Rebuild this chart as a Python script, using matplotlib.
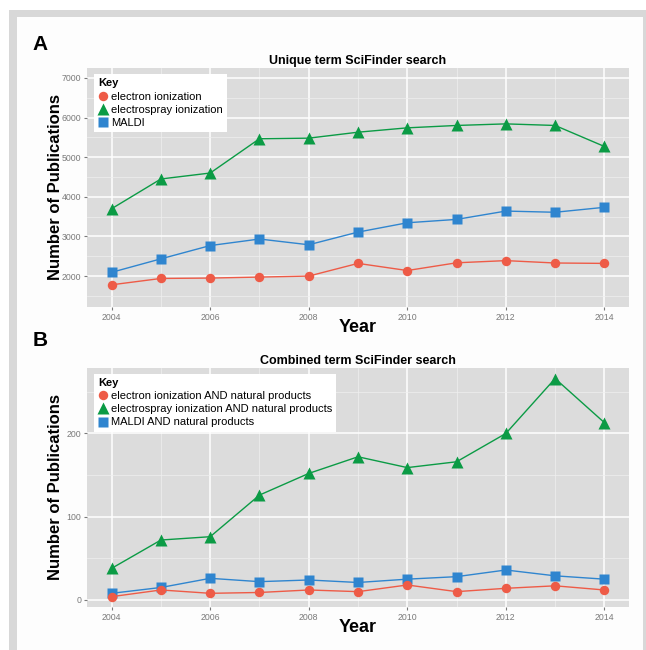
import matplotlib
matplotlib.use('Agg')
import matplotlib.pyplot as plt
from matplotlib.lines import Line2D
from matplotlib.patches import Rectangle
import numpy as np

plt.rcParams['font.family'] = ['Liberation Sans', 'DejaVu Sans']

years = [2004, 2005, 2006, 2007, 2008, 2009, 2010, 2011, 2012, 2013, 2014]

# panel A - unique term search
ei_a = [1780, 1940, 1950, 1975, 2000, 2320, 2140, 2335, 2390, 2330, 2320]
esi_a = [3700, 4450, 4600, 5465, 5480, 5630, 5740, 5800, 5840, 5800, 5270]
maldi_a = [2095, 2435, 2770, 2935, 2790, 3110, 3345, 3430, 3640, 3610, 3735]

# panel B - combined term search
ei_b = [4, 12, 8, 9, 12, 10, 18, 10, 14, 17, 12]
esi_b = [38, 72, 76, 126, 152, 172, 159, 166, 200, 266, 213]
maldi_b = [8, 15, 26, 22, 24, 21, 25, 28, 36, 29, 25]

labels_a = ['electron ionization', 'electrospray ionization', 'MALDI']
labels_b = ['electron ionization AND natural products',
            'electrospray ionization AND natural products',
            'MALDI AND natural products']

red = '#EE5B47'
green = '#0B9B45'
blue = '#2F85CF'
panel_bg = '#DCDCDC'
tick_col = '#7A7A7A'

fig = plt.figure(figsize=(6.46, 6.5), dpi=100)
fig.patch.set_facecolor('white')
# outer frame
fig.patches.append(Rectangle((0.0139, 0), 1, 0.9846, transform=fig.transFigure,
                             facecolor='#D8D8D8', edgecolor='none', zorder=-10))
fig.patches.append(Rectangle((0.0263, 0), 0.9691, 0.9738, transform=fig.transFigure,
                             facecolor='#FDFDFD', edgecolor='none', zorder=-9))


def draw_panel(ax, ei, esi, maldi, labels, ylim, yticks, yminor, title):
    ax.set_facecolor(panel_bg)
    ax.plot(years, maldi, '-', color=blue, lw=1.0, marker='s', ms=6.5, mec='none', zorder=3)
    ax.plot(years, esi, '-', color=green, lw=1.0, marker='^', ms=8.6, mec='none', zorder=3)
    ax.plot(years, ei, '-', color=red, lw=1.0, marker='o', ms=6.8, mec='none', zorder=4)
    ax.set_xlim(2003.5, 2014.5)
    ax.set_ylim(*ylim)
    ax.set_xticks([2004, 2006, 2008, 2010, 2012, 2014])
    ax.set_xticks([2005, 2007, 2009, 2011, 2013], minor=True)
    ax.set_yticks(yticks)
    ax.set_yticks(yminor, minor=True)
    ax.grid(which='major', color='white', lw=1.1)
    ax.grid(which='minor', color='#EFEFEF', lw=0.5)
    ax.set_axisbelow(True)
    for s in ax.spines.values():
        s.set_visible(False)
    ax.tick_params(which='major', length=2.5, width=0.8, color=tick_col,
                   labelcolor=tick_col, labelsize=6.3, pad=1.5)
    ax.tick_params(which='minor', length=0)
    ax.set_title(title, fontsize=9, fontweight='bold', pad=3)
    ax.set_xlabel('Year', fontsize=13, fontweight='bold')
    ax.set_ylabel('Number of Publications', fontsize=12, fontweight='bold')
    ax.xaxis.set_label_coords(0.5, -0.05)
    ax.yaxis.set_label_coords(-0.044, 0.5)
    handles = [Line2D([], [], ls='none', marker='o', ms=6.8, color=red, mec='none'),
               Line2D([], [], ls='none', marker='^', ms=8.6, color=green, mec='none'),
               Line2D([], [], ls='none', marker='s', ms=6.5, color=blue, mec='none')]
    leg = ax.legend(handles, labels, title='Key', loc='upper left',
                    bbox_to_anchor=(0.013, 0.975), borderaxespad=0, fontsize=8,
                    title_fontproperties={'weight': 'bold', 'size': 8},
                    frameon=True, fancybox=False, framealpha=1, edgecolor='white',
                    borderpad=0.4, handlelength=0.8, handletextpad=0.3,
                    labelspacing=0.28, alignment='left')
    leg.get_frame().set_linewidth(0)


ax_a = fig.add_axes([0.1347, 0.5277, 0.839, 0.3677])
draw_panel(ax_a, ei_a, esi_a, maldi_a, labels_a, (1220, 7250),
           [2000, 3000, 4000, 5000, 6000, 7000],
           [1500, 2500, 3500, 4500, 5500, 6500], 'Unique term SciFinder search')

ax_b = fig.add_axes([0.1347, 0.0657, 0.839, 0.3686])
draw_panel(ax_b, ei_b, esi_b, maldi_b, labels_b, (-8.8, 279),
           [0, 100, 200], [50, 150, 250], 'Combined term SciFinder search')

fig.text(0.051, 0.9315, 'A', fontsize=15, fontweight='bold', va='center', ha='left')
fig.text(0.051, 0.476, 'B', fontsize=15, fontweight='bold', va='center', ha='left')

fig.savefig('out.png', dpi=100)
